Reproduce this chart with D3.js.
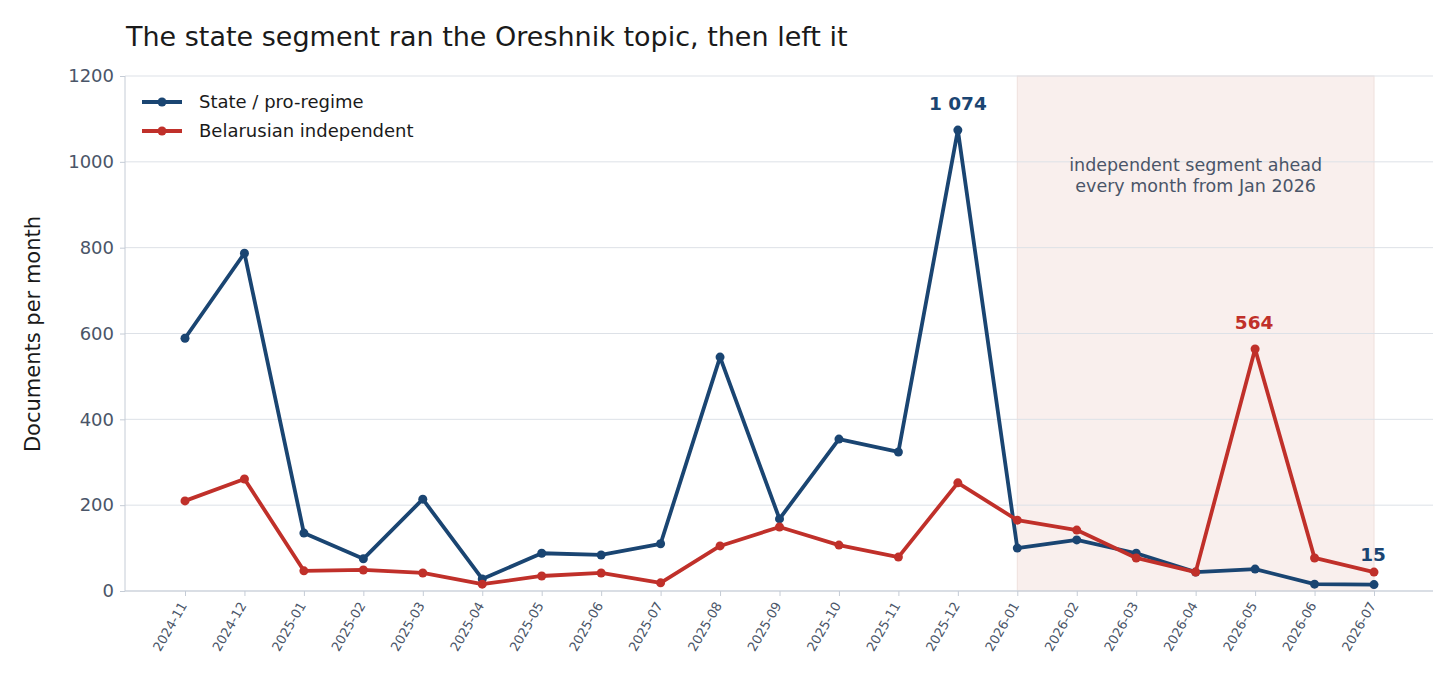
<!DOCTYPE html><html><head><meta charset="utf-8"><script src="https://cdn.jsdelivr.net/npm/d3@7"></script>
<style>body{margin:0;background:#fff;font-family:"DejaVu Sans",sans-serif}</style></head><body><svg id="c" width="1456" height="697"></svg>
<script>
const months=["2024-11","2024-12","2025-01","2025-02","2025-03","2025-04","2025-05","2025-06","2025-07","2025-08","2025-09","2025-10","2025-11","2025-12","2026-01","2026-02","2026-03","2026-04","2026-05","2026-06","2026-07"];
const stateVals=[589,787,135,75,214,28,88,84,110,545,168,354,324,1074,100,119,88,44,51,16,15];
const indepVals=[210,261,47,49,42,16,35,42,19,105,149,107,79,252,165,142,77,44,564,77,44];
const yTicks=[0,200,400,600,800,1000,1200];
const svg=d3.select("#c");
const L=125,R=1433,T=76,B=591;
const x=d3.scalePoint().domain(months).range([185,1374]);
const y=d3.scaleLinear().domain([0,1200]).range([B,T]);
svg.append("rect").attr("x",x("2026-01")).attr("y",T).attr("width",x("2026-07")-x("2026-01")).attr("height",B-T).attr("fill","#f9efed").attr("stroke","#efe0dc");
svg.append("g").selectAll("line").data(yTicks).join("line").attr("x1",L).attr("x2",R).attr("y1",d=>y(d)).attr("y2",d=>y(d)).attr("stroke","#dde1e7");
svg.append("line").attr("x1",L).attr("x2",R).attr("y1",B).attr("y2",B).attr("stroke","#c5ccd6");
svg.append("line").attr("x1",L).attr("x2",L).attr("y1",T).attr("y2",B).attr("stroke","#c5ccd6");
const ya=svg.append("g").attr("transform",`translate(${L},0)`).call(d3.axisLeft(y).tickValues(yTicks).tickFormat(d3.format("d")).tickSize(5).tickPadding(6));
ya.select(".domain").remove();ya.selectAll("line").attr("stroke","#c5ccd6");
ya.selectAll("text").attr("font-size",18).attr("fill","#4a5568").attr("font-family","DejaVu Sans");
const xa=svg.append("g").attr("transform",`translate(0,${B})`).call(d3.axisBottom(x).tickSize(5));
xa.select(".domain").remove();xa.selectAll("line").attr("stroke","#c5ccd6");
xa.selectAll("text").attr("font-size",13).attr("fill","#4a5568").attr("font-family","DejaVu Sans").attr("text-anchor","end")
 .attr("x",0).attr("y",0).attr("dy","0.35em").attr("transform","translate(-2,12) rotate(-60)");
function series(vals,col){
 svg.append("path").datum(vals).attr("fill","none").attr("stroke",col).attr("stroke-width",3.8).attr("stroke-linejoin","round")
  .attr("d",d3.line().x((d,i)=>x(months[i])).y(d=>y(d)));
 svg.append("g").selectAll("circle").data(vals).join("circle").attr("cx",(d,i)=>x(months[i])).attr("cy",d=>y(d)).attr("r",4.5).attr("fill",col);
}
const cS="#1a4572",cI="#c0302a";
series(stateVals,cS);series(indepVals,cI);
svg.append("text").attr("x",x("2025-12")).attr("y",y(1074)-20).attr("text-anchor","middle").attr("font-size",18.5).attr("font-weight","bold").attr("fill",cS).text("1 074");
svg.append("text").attr("x",x("2026-05")-1).attr("y",y(564)-20).attr("text-anchor","middle").attr("font-size",18.5).attr("font-weight","bold").attr("fill",cI).text("564");
svg.append("text").attr("x",x("2026-07")-1).attr("y",y(15)-24).attr("text-anchor","middle").attr("font-size",18.5).attr("font-weight","bold").attr("fill",cS).text("15");
const mid=(x("2026-01")+x("2026-07"))/2;
svg.append("text").attr("x",mid).attr("y",171).attr("text-anchor","middle").attr("font-size",17.5).attr("fill","#4a5568").text("independent segment ahead");
svg.append("text").attr("x",mid).attr("y",192).attr("text-anchor","middle").attr("font-size",17.5).attr("fill","#4a5568").text("every month from Jan 2026");
[["State / pro-regime",cS,102],["Belarusian independent",cI,131]].forEach(([t,c,yy])=>{
 svg.append("line").attr("x1",142).attr("x2",182).attr("y1",yy).attr("y2",yy).attr("stroke",c).attr("stroke-width",3.8);
 svg.append("circle").attr("cx",162).attr("cy",yy).attr("r",4.5).attr("fill",c);
 svg.append("text").attr("x",199).attr("y",yy+6).attr("font-size",18).attr("fill","#1a1a1a").text(t);
});
svg.append("text").attr("x",126).attr("y",46).attr("font-size",27).attr("fill","#1a1a1a").text("The state segment ran the Oreshnik topic, then left it");
svg.append("text").attr("transform","translate(40,334) rotate(-90)").attr("text-anchor","middle").attr("font-size",21).attr("fill","#1a1a1a").text("Documents per month");
</script></body></html>
